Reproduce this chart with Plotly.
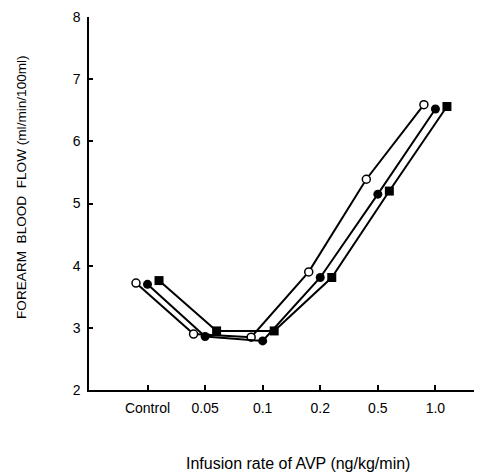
import plotly.graph_objects as go

categories = ["Control", "0.05", "0.1", "0.2", "0.5", "1.0"]
open_circle = [3.72, 2.90, 2.85, 3.90, 5.39, 6.59]
filled_circle = [3.70, 2.86, 2.79, 3.81, 5.15, 6.52]
filled_square = [3.76, 2.95, 2.95, 3.81, 5.20, 6.56]
y_ticks = [2, 3, 4, 5, 6, 7, 8]

idx = list(range(len(categories)))
OFF = 0.2

fig = go.Figure()
series = [
    (open_circle, -OFF, dict(symbol="circle", size=8, color="white", line=dict(color="black", width=1.5))),
    (filled_circle, 0.0, dict(symbol="circle", size=9, color="black", line=dict(color="black", width=0))),
    (filled_square, OFF, dict(symbol="square", size=9, color="black", line=dict(color="black", width=0))),
]
for vals, off, mk in series:
    fig.add_trace(go.Scatter(
        x=[i + off for i in idx], y=vals, mode="lines+markers",
        line=dict(color="black", width=2), marker=mk, showlegend=False,
        hoverinfo="skip",
    ))

font = "Liberation Sans, Arial, Helvetica, sans-serif"
fig.update_layout(
    width=484, height=475,
    margin=dict(l=89, r=10, t=17, b=85),
    paper_bgcolor="white", plot_bgcolor="white",
    font=dict(family=font, color="black", size=14),
    xaxis=dict(
        range=[-1.016, 5.67], tickvals=idx, ticktext=categories,
        showline=True, linecolor="black", linewidth=1.5,
        ticks="inside", ticklen=5, tickwidth=1.5, tickcolor="black",
        showgrid=False, zeroline=False, tickfont=dict(size=14),
        ticklabelstandoff=4,
    ),
    yaxis=dict(
        range=[2, 8], tickvals=y_ticks,
        showline=True, linecolor="black", linewidth=1.5,
        ticks="inside", ticklen=4, tickwidth=1.5, tickcolor="black",
        showgrid=False, zeroline=False, tickfont=dict(size=14),
        ticklabelstandoff=4,
    ),
    annotations=[
        dict(text="Infusion rate of AVP (ng/kg/min)", xref="paper", yref="paper",
             x=0.543, y=-0.196, showarrow=False, font=dict(size=16),
             xanchor="center", yanchor="middle"),
        dict(text="FOREARM  BLOOD  FLOW (ml/min/100ml)", xref="paper", yref="paper",
             x=-0.177, y=0.544, showarrow=False, font=dict(size=13.6), textangle=-90,
             xanchor="center", yanchor="middle"),
    ],
)
fig.write_html("out.html")
